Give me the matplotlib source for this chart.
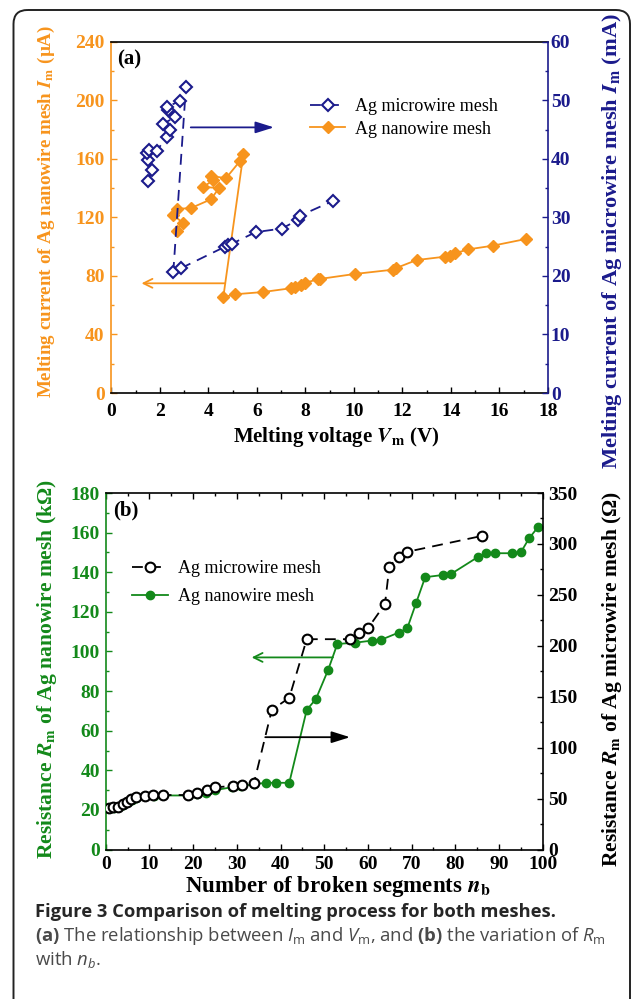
import matplotlib

matplotlib.use('Agg')

import matplotlib.pyplot as plt
from matplotlib.patches import FancyBboxPatch
from matplotlib.ticker import MultipleLocator

ORANGE = '#f7941d'
NAVY = '#1b1b8c'
GREEN = '#13891a'
SERIF = 'Liberation Serif'

# (a) melting voltage (V) against melting current
nano_v = [2.69, 2.93, 2.55, 2.69, 3.26, 4.10, 4.43, 3.79, 4.20, 4.10, 4.72, 5.30, 5.44,
          4.61, 5.09, 6.23, 7.39, 7.55, 7.80, 8.00, 8.50, 8.60, 10.04, 11.60, 11.75,
          12.58, 13.75, 13.96, 14.16, 14.71, 15.72, 17.09]
nano_i = [111.0, 116.5, 121.7, 126.0, 126.3, 132.4, 140.0, 141.0, 145.5, 148.5, 146.8, 158.6, 163.4,
          65.4, 67.5, 69.0, 71.6, 72.3, 73.8, 75.4, 77.7, 78.0, 81.4, 84.3, 85.5,
          90.9, 93.2, 93.7, 95.5, 98.2, 100.7, 105.3]  # uA

micro_v = [1.52, 1.66, 1.52, 1.45, 1.56, 1.86, 2.28, 2.41, 2.11, 2.62, 2.34, 2.28, 2.82, 3.07,
           2.55, 2.85, 4.68, 4.80, 4.96, 5.95, 7.02, 7.70, 7.77, 9.12]
micro_i = [36.3, 38.1, 39.8, 41.0, 41.5, 41.4, 43.7, 45.0, 46.0, 47.1, 48.4, 48.9, 49.9, 52.3,
           20.7, 21.3, 25.0, 25.3, 25.5, 27.5, 28.1, 29.6, 30.3, 32.8]  # mA

# (b) resistance against number of broken segments
micro_n = [0.8, 1.7, 2.9, 3.9, 4.8, 5.7, 6.9, 9.0, 10.9, 13.0, 18.9, 21.0, 23.1, 25.0,
           29.1, 31.1, 33.9, 38.0, 42.0, 46.0, 56.0, 58.0, 60.0, 63.9, 64.9, 67.0, 68.9, 86.0]
micro_r = [41.0, 41.4, 42.0, 44.3, 46.9, 49.4, 51.5, 52.5, 53.3, 53.5, 53.5, 55.2, 58.3, 61.1,
           62.4, 63.4, 64.9, 137.0, 149.0, 206.5, 206.5, 212.3, 217.2, 241.0, 277.7, 287.6,
           292.2, 307.8]  # ohm

nano_n = [1, 2, 3, 4, 5, 6, 7, 9, 11, 13, 19, 21, 23, 25, 29, 31, 34, 36.7, 39, 42,
          46.0, 48.1, 50.9, 53.0, 57.0, 60.9, 62.9, 67.0, 69.0, 71.0, 73.1, 77.1, 79.0,
          85.1, 87.0, 89.1, 93.0, 95.0, 96.9, 99.0]
nano_r = [21.0, 21.2, 21.5, 22.5, 23.8, 25.0, 26.2, 26.8, 27.2, 27.3, 27.3, 27.8, 28.3, 30.0,
          31.5, 32.0, 33.0, 33.7, 33.7, 33.7, 70.5, 76.0, 90.7, 103.8, 104.4, 105.5, 105.8,
          109.5, 111.7, 124.3, 137.5, 138.6, 139.1, 147.6, 149.6, 149.6, 149.6, 150.1,
          157.2, 163.0]  # kohm

plt.rcParams.update({
    'font.family': SERIF,
    'font.weight': 'bold',
    'axes.labelweight': 'bold',
    'mathtext.fontset': 'custom',
    'mathtext.rm': 'Open Sans:weight=normal',
    'mathtext.it': 'Open Sans:style=italic:weight=normal',
    'mathtext.bf': 'Open Sans:weight=bold',
    'xtick.direction': 'in',
    'ytick.direction': 'in',
    'xtick.major.size': 4.5,
    'ytick.major.size': 4.5,
    'xtick.minor.size': 2.5,
    'ytick.minor.size': 2.5,
    'xtick.major.width': 1.0,
    'ytick.major.width': 1.0,
    'xtick.minor.width': 1.0,
    'ytick.minor.width': 1.0,
    'axes.linewidth': 1.2,
})

TICK = 14

fig = plt.figure(figsize=(6.33, 9.99), dpi=100)

bg = fig.add_axes([0, 0, 1, 1])
bg.set_xlim(0, 633)
bg.set_ylim(999, 0)
bg.axis('off')
bg.add_patch(FancyBboxPatch((13.5, 10), 616.5, 1030, boxstyle='round,pad=0,rounding_size=14',
                            fill=False, lw=1.4, ec='#222222'))


def style_twin(ax, ax2, left_color, right_color, xpad):
    ax.spines['right'].set_visible(False)
    for side in ('left', 'top', 'bottom'):
        ax2.spines[side].set_visible(False)
    ax.spines['left'].set_color(left_color)
    ax2.spines['right'].set_color(right_color)
    ax.tick_params(axis='y', which='both', colors=left_color, labelsize=TICK)
    ax2.tick_params(axis='y', which='both', colors=right_color, labelsize=TICK)
    ax.tick_params(axis='x', which='both', labelsize=TICK, pad=xpad)


# ---- panel (a)
axa = fig.add_axes([0.1761, 0.6066, 0.6896, 0.3514])
axa2 = axa.twinx()
ln_nano, = axa.plot(nano_v, nano_i, color=ORANGE, lw=1.3, marker='D', ms=6.2,
                    mfc=ORANGE, mec=ORANGE, label='Ag nanowire mesh')
ln_micro, = axa2.plot(micro_v, micro_i, color=NAVY, lw=1.3, ls=(0, (6, 4)), marker='D', ms=6.5,
                      mfc='white', mec=NAVY, mew=1.5, label='Ag microwire mesh')
axa.set_xlim(0, 18)
axa.set_ylim(0, 240)
axa2.set_ylim(0, 60)
axa.xaxis.set_major_locator(MultipleLocator(2))
axa.xaxis.set_minor_locator(MultipleLocator(1))
axa.yaxis.set_major_locator(MultipleLocator(40))
axa.yaxis.set_minor_locator(MultipleLocator(20))
axa2.yaxis.set_major_locator(MultipleLocator(10))
axa2.yaxis.set_minor_locator(MultipleLocator(5))
style_twin(axa, axa2, ORANGE, NAVY, 7)
axa.tick_params(axis='y', pad=5)
axa2.tick_params(axis='y', pad=2)

axa.annotate('', xy=(1.24, 75), xytext=(4.69, 75),
             arrowprops=dict(arrowstyle='->', color=ORANGE, lw=1.3, shrinkA=0, shrinkB=0,
                             mutation_scale=16))
axa2.annotate('', xy=(6.7, 45.4), xytext=(3.27, 45.4),
              arrowprops=dict(arrowstyle='-|>,head_width=0.22,head_length=0.7', color=NAVY,
                              lw=1.3, shrinkA=0, shrinkB=0, mutation_scale=16))

axa.set_xlabel(r'Melting voltage $\mathbfit{V}_\mathbf{m}$ (V)', fontsize=15, math_fontfamily='stix')
axa.set_ylabel(r'Melting current of Ag nanowire mesh $\mathbfit{I}_\mathbf{m}$ (µA)', fontsize=13.7,
               color=ORANGE, math_fontfamily='stix')
axa2.set_ylabel(r'Melting current of Ag microwire mesh $\mathbfit{I}_\mathbf{m}$ (mA)', fontsize=16.2,
                color=NAVY, math_fontfamily='stix', rotation=90)
axa.xaxis.label.set_va('center')
axa.yaxis.label.set_va('center')
axa2.yaxis.label.set_va('center')
axa.xaxis.set_label_coords(0.514, -0.125)
axa.yaxis.set_label_coords(-0.148, 0.517)
axa2.yaxis.set_label_coords(1.1466, 0.432)

axa.text(0.013, 0.949, '(a)', transform=axa.transAxes, fontsize=15, ha='left', va='center')
axa2.legend([ln_micro, ln_nano], ['Ag microwire mesh', 'Ag nanowire mesh'],
            loc='upper left', bbox_to_anchor=(310 / 633, 1 - 98 / 999), bbox_transform=fig.transFigure,
            frameon=False, borderpad=0, borderaxespad=0, handlelength=1.95, handletextpad=0.55,
            labelspacing=0.32, prop={'family': SERIF, 'weight': 'normal', 'size': 13})

# ---- panel (b)
axb = fig.add_axes([0.167, 0.1496, 0.6904, 0.3569])
axb2 = axb.twinx()
ln_gn, = axb.plot(nano_n, nano_r, color=GREEN, lw=1.3, marker='o', ms=6, mfc=GREEN, mec=GREEN)
ln_bk, = axb2.plot(micro_n, micro_r, color='black', lw=1.3, ls=(0, (6, 4)), marker='o', ms=7,
                   mfc='white', mec='black', mew=1.5)
axb.set_xlim(0, 100)
axb.set_ylim(0, 180)
axb2.set_ylim(0, 350)
axb.xaxis.set_major_locator(MultipleLocator(10))
axb.xaxis.set_minor_locator(MultipleLocator(5))
axb.yaxis.set_major_locator(MultipleLocator(20))
axb.yaxis.set_minor_locator(MultipleLocator(10))
axb2.yaxis.set_major_locator(MultipleLocator(50))
axb2.yaxis.set_minor_locator(MultipleLocator(25))
style_twin(axb, axb2, GREEN, 'black', 5)
axb.tick_params(axis='x', which='both', top=True)
axb.tick_params(axis='y', pad=4)
axb2.tick_params(axis='y', pad=4)

axb.annotate('', xy=(33.4, 97), xytext=(52, 97),
             arrowprops=dict(arrowstyle='->', color=GREEN, lw=1.3, shrinkA=0, shrinkB=0,
                             mutation_scale=16))
axb2.annotate('', xy=(55.9, 110.3), xytext=(36.5, 110.3),
              arrowprops=dict(arrowstyle='-|>,head_width=0.22,head_length=0.7', color='black',
                              lw=1.3, shrinkA=0, shrinkB=0, mutation_scale=16))

axb.set_xlabel(r'Number of broken segments $\mathbfit{n}_\mathbf{b}$', fontsize=16.5,
               math_fontfamily='stix')
axb.set_ylabel(r'Resistance $\mathbfit{R}_\mathbf{m}$ of Ag nanowire mesh (kΩ)', fontsize=15.5,
               color=GREEN, math_fontfamily='stix')
axb2.set_ylabel(r'Resistance $\mathbfit{R}_\mathbf{m}$ of Ag microwire mesh (Ω)', fontsize=15.5,
                color='black', math_fontfamily='stix', rotation=90)
axb.xaxis.label.set_va('center')
axb.yaxis.label.set_va('center')
axb2.yaxis.label.set_va('center')
axb.xaxis.set_label_coords(0.532, -0.104)
axb.yaxis.set_label_coords(-0.134, 0.505)
axb2.yaxis.set_label_coords(1.1586, 0.479)

axb.text(0.017, 0.952, '(b)', transform=axb.transAxes, fontsize=15, ha='left', va='center')
axb2.legend([ln_bk, ln_gn], ['Ag microwire mesh', 'Ag nanowire mesh'],
            loc='upper left', bbox_to_anchor=(131.7 / 633, 1 - 560 / 999), bbox_transform=fig.transFigure,
            frameon=False, borderpad=0, borderaxespad=0, handlelength=2.0, handletextpad=0.55,
            labelspacing=0.6, prop={'family': SERIF, 'weight': 'normal', 'size': 13})

# ---- caption
fig.text(35 / 633, 1 - 912 / 999, 'Figure 3 Comparison of melting process for both meshes.',
         family='Open Sans', fontweight='bold', fontsize=13.2, color='#262626', va='center')
fig.text(35 / 633, 1 - 936 / 999,
         r'$\mathbf{(a)}$ The relationship between $I_\mathrm{m}$ and $V_\mathrm{m}$, and '
         r'$\mathbf{(b)}$ the variation of $R_\mathrm{m}$',
         family='Open Sans', fontweight='normal', fontsize=13.3, color='#4a4a4a', va='center')
fig.text(35 / 633, 1 - 960 / 999, r'with $n_b$.',
         family='Open Sans', fontweight='normal', fontsize=13.3, color='#4a4a4a', va='center')

# make sure every tick label is drawn bold
fig.canvas.draw()
for a in (axa, axa2, axb, axb2):
    plt.setp(a.get_xticklabels() + a.get_yticklabels(), fontweight='bold')

fig.savefig('out.png', dpi=100)
